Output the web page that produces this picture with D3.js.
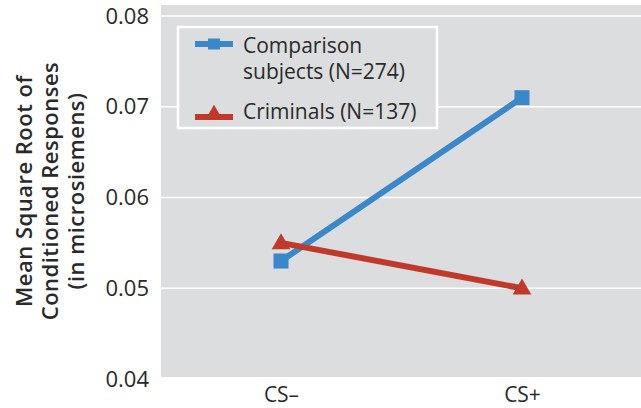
<!DOCTYPE html>
<html><head><meta charset="utf-8">
<script src="https://cdn.jsdelivr.net/npm/d3@7"></script>
<style>body{margin:0;background:#fff}svg{display:block}text{font-family:"Open Sans",sans-serif}</style>
</head><body><div id="c"></div>
<script>
const categories = ["CS\u2013", "CS+"];
const seriesNames = ["Comparison subjects (N=274)", "Criminals (N=137)"];
const comparisonValues = [0.053, 0.071];
const criminalValues = [0.055, 0.050];
const yTicks = [0.04, 0.05, 0.06, 0.07, 0.08];
const yTitle = ["Mean Square Root of", "Conditioned Responses", "(in microsiemens)"];

(function () {
const W = 641, H = 408;
const svg = d3.select("#c").append("svg").attr("width", W).attr("height", H);
const pL = 161, pR = 641, pT = 5, pB = 377;
svg.append("rect").attr("x", pL).attr("y", pT).attr("width", pR-pL).attr("height", pB-pT).attr("fill", "#dcdddf");

const y = d3.scaleLinear().domain([0.04, 0.08]).range([379, 16]);
const x = d3.scalePoint().domain(categories).range([281, 522]);

// gridlines
svg.append("g").selectAll("line").data(yTicks.filter(d => d > 0.04)).join("line")
  .attr("x1", pL).attr("x2", pR).attr("y1", d => y(d)).attr("y2", d => y(d))
  .attr("stroke", "#fff").attr("stroke-width", 1.5);

// y tick labels
const yAxis = d3.axisLeft(y).tickValues(yTicks).tickFormat(d3.format(".2f")).tickSize(0).tickPadding(0);
const ya = svg.append("g").attr("transform", "translate(149,0)").call(yAxis);
ya.select(".domain").remove();
ya.selectAll("text").attr("font-size", 22).attr("fill", "#2a2a2a").style("font-family", '"Open Sans",sans-serif');

// x labels
const xAxis = d3.axisBottom(x).tickSize(0).tickPadding(0);
const xa = svg.append("g").attr("transform", "translate(0,387)").call(xAxis);
xa.select(".domain").remove();
xa.selectAll("text").attr("font-size", 21).attr("fill", "#2a2a2a").style("font-family", '"Open Sans",sans-serif');

// y title
const yt = svg.append("text").attr("transform", "translate(0,191) rotate(-90)")
  .attr("text-anchor", "middle").attr("font-size", 22).attr("font-weight", 600)
  .attr("letter-spacing", 0.5).attr("fill", "#2a2a2a");
yTitle.forEach((t, i) => yt.append("tspan").attr("x", 0).attr("y", 32 + i * 26).text(t));

const blue = "#3a87c9", red = "#c0392b";
const line = d3.line().x((d, i) => x(categories[i])).y(d => y(d));

svg.append("path").datum(comparisonValues).attr("d", line).attr("fill", "none").attr("stroke", blue).attr("stroke-width", 6);
svg.selectAll(".sq").data(comparisonValues).join("rect")
  .attr("x", (d, i) => x(categories[i]) - 7.5).attr("y", d => y(d) - 7.5).attr("width", 15).attr("height", 15).attr("fill", blue);

svg.append("path").datum(criminalValues).attr("d", line).attr("fill", "none").attr("stroke", red).attr("stroke-width", 6);
const tri = d3.symbol().type(d3.symbolTriangle).size(150);
svg.selectAll(".tri").data(criminalValues).join("path")
  .attr("d", tri).attr("transform", (d, i) => `translate(${x(categories[i])},${y(d) + 1})`).attr("fill", red);

// legend
const lg = svg.append("g");
lg.append("rect").attr("x", 178).attr("y", 27).attr("width", 259).attr("height", 101)
  .attr("fill", "#dcdddf").attr("stroke", "#fff").attr("stroke-width", 2.5);
lg.append("line").attr("x1", 195).attr("x2", 233).attr("y1", 44).attr("y2", 44).attr("stroke", blue).attr("stroke-width", 6);
lg.append("rect").attr("x", 208).attr("y", 38.5).attr("width", 12).attr("height", 11).attr("fill", blue);
lg.append("line").attr("x1", 195).attr("x2", 233).attr("y1", 117).attr("y2", 117).attr("stroke", red).attr("stroke-width", 6);
lg.append("path").attr("d", d3.symbol().type(d3.symbolTriangle).size(110)).attr("transform", "translate(214,114)").attr("fill", red);
const lt1 = lg.append("text").attr("font-size", 21).attr("fill", "#2a2a2a");
lt1.append("tspan").attr("x", 243).attr("y", 53).text("Comparison");
lt1.append("tspan").attr("x", 243).attr("y", 79).text("subjects (N=274)");
lg.append("text").attr("x", 243).attr("y", 119).attr("font-size", 21).attr("fill", "#2a2a2a").text(seriesNames[1]);
})();
</script></body></html>
